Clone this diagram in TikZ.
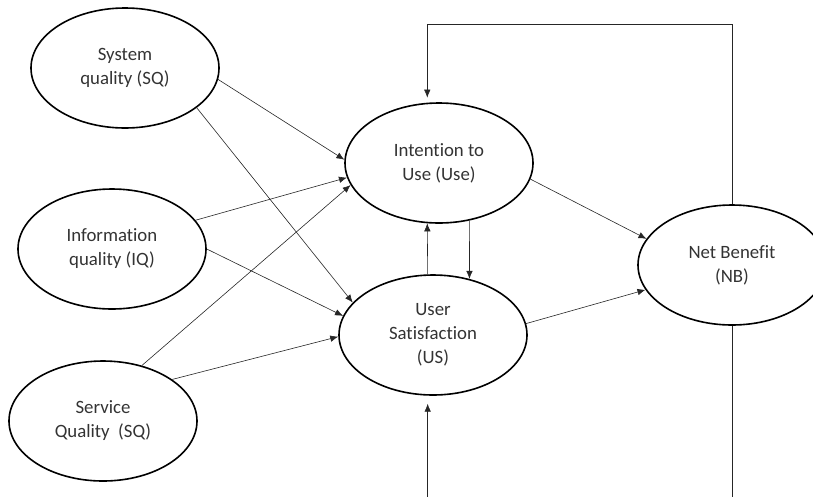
\documentclass[tikz,border=0pt]{standalone}
\usepackage{fontspec}
\setmainfont{Carlito}[Ligatures={NoCommon}]
\usetikzlibrary{positioning,shapes.geometric,arrows.meta}

\begin{document}
\begin{tikzpicture}[x=1pt,y=1pt]
    \tikzstyle{construct}=[ellipse,draw=black,line width=1.6,minimum width=188,minimum height=120,inner sep=0,align=center,text=black!80,font=\fontsize{18.8}{24}\selectfont]
    \tikzstyle{link}=[draw=black!85,line width=0.6,-{Latex[length=8pt,width=6.5pt]}]
    \useasboundingbox (0,0) rectangle (813,-496);

    % quality constructs
    \node[construct] (sysq) at (125,-68) {System\\quality (SQ)};
    \node[construct] (infq) at (112,-249) {Information\\quality (IQ)};
    \node[construct] (serq) at (103,-421) {Service\\Quality~ (SQ)};

    % use, satisfaction, benefit
    \node[construct] (use) at (439,-163) {Intention to\\Use (Use)};
    \node[construct] (usat) at (433,-335) {User\\Satisfaction\\(US)};
    \node[construct] (nben) at (732,-265) {Net Benefit\\(NB)};

    \draw[link] (sysq.-7) -- (use.178);
    \draw[link] (sysq.-29) -- (usat.158);
    \draw[link] (infq.19) -- (use.189);
    \draw[link] (infq.0) -- (usat.168);
    \draw[link] (serq.55) -- (use.194);
    \draw[link] (serq.31) -- (usat.181);

    \draw[link] (use.-62) -- (usat.57);
    \draw[link] (usat.95) -- (use.259);

    \draw[link] (use.-10) -- (nben.163);
    \draw[link] (usat.7) -- (nben.196);

    % feedback loops
    \draw[link,shorten >=5pt] (nben.north) -- ++(0,180) -| (use.101);
    \draw[link,shorten >=8pt] (nben.south) -- ++(0,-200) -| (usat.265);
\end{tikzpicture}
\end{document}
